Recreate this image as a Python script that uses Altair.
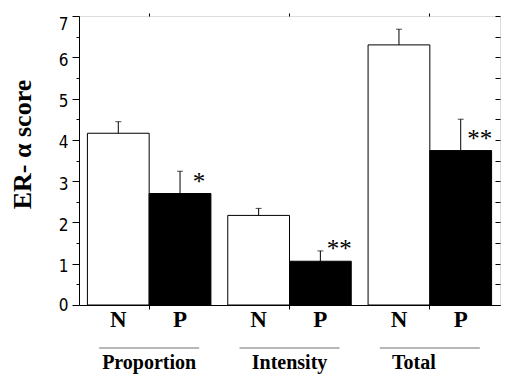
import altair as alt
import pandas as pd

groups = ["Proportion", "Proportion", "Intensity", "Intensity", "Total", "Total"]
conds = ["N", "P", "N", "P", "N", "P"]
values = [4.16, 2.70, 2.17, 1.06, 6.30, 3.74]
errors = [0.28, 0.54, 0.17, 0.25, 0.38, 0.76]
sig = ["", "*", "", "**", "", "**"]
group_names = ["Proportion", "Intensity", "Total"]
y_ticks = [i / 2 for i in range(15)]

df = pd.DataFrame({"group": groups, "cond": conds, "value": values,
                   "err": errors, "sig": sig})
df["top"] = df["value"] + df["err"]
gdf = pd.DataFrame({"group": group_names})

SERIF = "Liberation Serif"
SANS = "Liberation Sans Narrow, DejaVu Sans Condensed, Liberation Sans"

xscale = alt.Scale(domain=group_names, paddingInner=0.12, paddingOuter=0.06)
yscale = alt.Scale(domain=[0, 7], nice=False, zero=True)
xoff = alt.XOffset("cond:N", scale=alt.Scale(domain=["N", "P"], paddingInner=0, paddingOuter=0))

bars = alt.Chart(df).mark_bar(stroke="black", strokeWidth=1).encode(
    x=alt.X("group:N", scale=xscale, sort=group_names,
            axis=alt.Axis(orient="bottom", labels=False, title=None, tickSize=4,
                          domain=True, domainColor="black", tickColor="black")),
    xOffset=xoff,
    y=alt.Y("value:Q", scale=yscale,
            axis=alt.Axis(orient="left", values=y_ticks, format=".0f",
                          labelExpr="datum.value % 1 === 0 ? format(datum.value, '.0f') : ''",
                          tickSize={"condition": {"test": "datum.value % 1 === 0", "value": 7}, "value": 3},
                          labelBaseline={"condition": {"test": "datum.value === 7", "value": "top"}, "value": "middle"},
                          labelOffset={"condition": {"test": "datum.value % 7 === 0", "value": 0}, "value": 3},
                          labelFont=SANS, labelFontSize=17, labelColor="black",
                          labelPadding=4, domainColor="black", tickColor="black",
                          title="ER- α score", titleFont=SERIF, titleFontSize=26,
                          titleFontWeight="bold", titleColor="black",
                          titleX=-57, titleY=128, titleAngle=270,
                          titleAlign="center", titleBaseline="middle", grid=False)),
    fill=alt.Fill("cond:N", scale=alt.Scale(domain=["N", "P"], range=["white", "black"]), legend=None),
)

err_rule = alt.Chart(df).mark_rule(color="black", strokeWidth=1).encode(
    x=alt.X("group:N", scale=xscale, sort=group_names, axis=None),
    xOffset=xoff,
    y=alt.Y("value:Q", scale=yscale,
            axis=alt.Axis(orient="right", values=y_ticks, labels=False, domain=False,
                          tickSize=5, offset=-5, tickColor="black", title=None, grid=False)),
    y2="top:Q",
)

err_cap = alt.Chart(df).mark_tick(color="black", size=6, thickness=1, orient="horizontal").encode(
    x=alt.X("group:N", scale=xscale, sort=group_names, axis=None),
    xOffset=xoff,
    y=alt.Y("top:Q", scale=yscale, axis=None),
)

stars = alt.Chart(df).mark_text(font=SERIF, fontSize=25, color="black", dx=19, dy=-4,
                                baseline="alphabetic", align="center").encode(
    x=alt.X("group:N", scale=xscale, sort=group_names, axis=None),
    xOffset=xoff,
    y=alt.Y("value:Q", scale=yscale, axis=None),
    text="sig:N",
)

np_labels = alt.Chart(df).mark_text(font=SERIF, fontSize=23, fontWeight="bold", color="black",
                                    baseline="alphabetic", align="center").encode(
    x=alt.X("group:N", scale=xscale, sort=group_names, axis=None),
    xOffset=xoff,
    y=alt.value(311),
    text="cond:N",
)

underline = alt.Chart(gdf).mark_tick(color="#333333", size=100, thickness=1, orient="horizontal").encode(
    x=alt.X("group:N", scale=xscale, sort=group_names,
            axis=alt.Axis(orient="top", labels=False, title=None, domain=False,
                          tickSize=3, tickColor="black")),
    y=alt.value(332),
)

glabels = alt.Chart(gdf).transform_filter("datum.group !== 'Total'").mark_text(
    font=SERIF, fontSize=20, fontWeight="bold", color="black",
    baseline="alphabetic", align="center").encode(
    x=alt.X("group:N", scale=xscale, sort=group_names, axis=None),
    y=alt.value(353),
    text="group:N",
)

glabels_total = alt.Chart(gdf).transform_filter("datum.group === 'Total'").mark_text(
    font=SERIF, fontSize=20, fontWeight="bold", color="black",
    baseline="alphabetic", align="center", dx=-16).encode(
    x=alt.X("group:N", scale=xscale, sort=group_names, axis=None),
    y=alt.value(353),
    text="group:N",
)

chart = alt.layer(bars, err_rule, err_cap, stars, np_labels, underline, glabels, glabels_total).resolve_axis(
    x="independent", y="independent"
).properties(
    width=421, height=289,
    autosize=alt.AutoSizeParams(type="none"),
    padding={"left": 71, "top": 8, "right": 2, "bottom": 69},
).configure_view(stroke="black", strokeWidth=1).configure(background="white")

chart.save("out.html", embed_options={"renderer": "svg", "actions": False})
